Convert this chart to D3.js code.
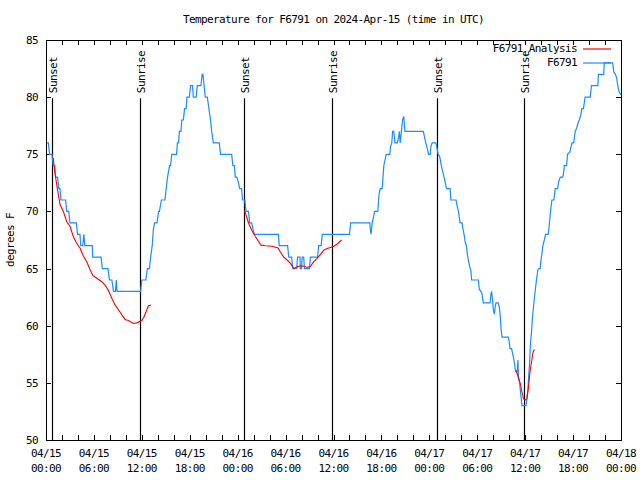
<!DOCTYPE html>
<html><head><meta charset="utf-8">
<script src="https://cdn.jsdelivr.net/npm/d3@7"></script>
<style>
body{margin:0;background:#fff}
text{font-family:"DejaVu Sans Mono","Liberation Mono",monospace;font-size:11px;letter-spacing:-0.6px;fill:#000}
</style>
</head><body>
<svg id="c" width="640" height="480"></svg>
<script>
// ---- data (hours after 2024-04-15 00:00 UTC, degrees F) ----
const startUTC = Date.UTC(2024, 3, 15, 0, 0);
const endUTC = Date.UTC(2024, 3, 18, 0, 0);
const titleText = "Temperature for F6791 on 2024-Apr-15 (time in UTC)";
const yLabel = "degrees F";
const yTicks = [50, 55, 60, 65, 70, 75, 80, 85];
const seriesNames = ["F6791_Analysis", "F6791"];
const sunLabels = ["Sunset", "Sunrise", "Sunset", "Sunrise", "Sunset", "Sunrise"];
const sunHours = [0.75, 11.83, 24.84, 35.75, 48.92, 59.83];

const observed = [
 [0.1,76],[0.3,76],[0.45,75],[0.75,75],[0.9,74],[1.1,74],[1.2,73],[1.45,73],[1.6,72],[1.75,72],[1.88,71],[2.45,71],
 [2.6,70],[2.85,70],[3.0,69],[3.8,69],[3.95,68],[4.25,68],[4.35,67],[4.6,67],[4.75,68],[4.85,67],[5.8,67],[5.85,66],
 [6.9,66],[7.05,65],[7.75,65],[7.95,64],[8.25,64],[8.45,63],[8.7,63],[8.8,64],[8.9,63],[11.85,63],[12.0,64],[12.5,64],
 [12.7,65],[12.95,65],[13.1,66],[13.3,67],[13.45,68.5],[13.6,69],[13.9,69],[14.1,70],[14.2,70],[14.45,71],[14.9,71],
 [15.05,72],[15.22,73],[15.47,74],[15.6,74],[15.75,75],[16.35,75],[16.45,76],[16.6,76],[16.7,77],[16.9,77],[17.0,78],
 [17.2,78],[17.35,79],[17.55,79],[17.65,80],[17.95,80],[18.1,81],[18.35,81],[18.45,80],[18.8,80],[18.95,81],[19.2,81],
 [19.4,81],[19.55,82],[19.65,82],[19.8,81],[19.95,80],[20.2,80],[20.4,79],[20.6,78],[20.75,77],[20.95,76],[21.7,76],
 [21.85,75],[23.25,75],[23.4,74],[23.6,74],[23.7,73],[23.9,73],[24.1,72.5],[24.25,72],[24.5,72],[24.6,71],[24.9,71],
 [25.05,70],[25.35,70],[25.5,69],[25.75,69],[25.9,68.5],[26.1,68],[29.1,68],[29.2,67],[30.25,67],[30.4,66],[30.75,66],
 [30.9,65],[31.4,65],[31.5,66],[31.8,66],[31.86,65],[32.0,65],[32.07,66],[32.27,66],[32.36,65],[33.0,65],[33.1,66],
 [34.0,66],[34.15,67],[34.45,67],[34.6,68],[38.0,68],[38.15,69],[40.55,69],[40.6,68.5],[40.7,68],[40.85,69],[41.0,69.5],
 [41.15,70],[41.55,70],[41.7,71.5],[41.85,72],[42.1,72],[42.2,73],[42.3,74],[42.45,74.5],[42.6,75],[43.05,75],[43.15,75.7],
 [43.3,76],[43.4,77],[43.55,77],[43.7,76],[44.0,76],[44.15,76.5],[44.25,77],[44.35,76],[44.5,77],[44.65,78],[44.8,78.3],
 [44.95,77],[47.25,77],[47.4,76.5],[47.55,76],[47.75,75.5],[47.9,75],[48.1,75],[48.2,75.7],[48.35,76],[48.8,76],
 [48.95,75.6],[49.1,75],[49.3,74.8],[49.5,74],[49.67,73.5],[49.84,73],[50.0,72.5],[50.15,72],[50.6,72],[50.7,71],
 [51.35,71],[51.47,70.5],[51.65,70],[51.85,69],[52.1,69],[52.2,68.5],[52.35,68],[52.5,67.3],[52.64,67],[52.75,66.3],
 [52.9,65.7],[53.05,65.2],[53.2,64.8],[53.3,64],[54.15,64],[54.25,63.2],[54.45,63],[54.6,62.8],[54.75,62],[55.6,62],
 [55.7,62.7],[55.8,63],[55.9,62.3],[56.0,61.5],[56.15,61],[56.25,61.7],[56.35,62],[56.6,62],[56.75,61.7],[56.86,61],
 [57.0,59.6],[57.1,59],[57.9,59],[58.0,58.6],[58.1,58],[58.3,58],[58.45,57.5],[58.6,57],[58.8,56],[59.0,56],[59.1,57],
 [59.15,55.5],[59.3,55],[59.45,54],[59.6,53],[60.1,53],[60.2,53.5],[60.35,54.5],[60.45,55.7],[60.55,56.7],[60.67,58.5],
 [60.8,59.5],[60.9,60.6],[61.05,61.7],[61.15,62.4],[61.3,63.3],[61.43,64.1],[61.6,64.9],[61.72,65],[61.88,65],
 [61.97,65.7],[62.1,66.3],[62.22,67],[62.4,67.5],[62.56,68],[62.88,68],[63.0,68.7],[63.1,69.4],[63.2,70.2],[63.35,71],
 [63.6,71],[63.76,72],[64.06,72],[64.2,72.6],[64.4,73],[64.7,73],[64.8,73.3],[64.9,74],[65.2,74],[65.3,75],[65.6,75.2],
 [65.86,76],[66.07,76],[66.27,77],[66.45,77.3],[66.6,77.7],[66.77,78],[66.95,78.4],[67.1,79],[67.3,79],[67.5,80],
 [68.15,80],[68.3,81],[69.1,81],[69.17,82],[69.84,82],[69.9,83],[70.96,83],[71.1,82.2],[71.3,82],[71.45,81.7],
 [71.6,81],[71.75,80.5],[72.0,80.2]
];

const analysisNight1 = [
 [0.9,74.7],[1.13,73.3],[1.42,72.0],[1.76,70.6],[2.17,70.0],[2.6,69.1],[3.01,68.7],[3.42,67.8],[3.85,67.2],[4.26,66.8],
 [4.68,66.1],[5.1,65.6],[5.52,64.9],[5.86,64.4],[6.36,64.15],[6.99,63.85],[7.4,63.55],[7.81,63.1],[8.24,62.4],[8.66,61.8],
 [9.07,61.4],[9.5,60.95],[9.91,60.55],[10.32,60.45],[10.95,60.2],[11.38,60.25],[12.0,60.45],[12.29,60.8],[12.54,61.25],
 [12.83,61.75],[13.13,61.8]
];
const analysisNight2 = [
 [24.85,70.1],[24.96,69.9],[25.17,69.4],[25.38,68.95],[25.67,68.5],[25.92,68.15],[26.22,67.8],[26.63,67.35],[26.93,67.05],
 [27.47,67.0],[28.31,66.95],[29.06,66.8],[29.35,66.45],[29.77,66.0],[30.19,65.75],[30.61,65.45],[31.02,65.0],[31.45,65.15],
 [31.86,65.25],[32.28,65.2],[32.7,65.1],[33.12,65.2],[33.53,65.6],[33.95,65.9],[34.37,66.25],[34.78,66.6],[35.2,66.75],
 [35.62,66.85],[36.04,66.95],[36.46,67.15],[37.0,67.5]
];
const analysisNight3 = [
 [58.83,56.1],[59.0,55.8],[59.38,54.95],[59.6,54.2],[59.8,53.6],[60.0,53.5],[60.2,53.6],[60.38,54.4],[60.5,55.25],
 [60.63,56.1],[60.8,56.85],[60.96,57.6],[61.05,57.8],[61.17,57.9]
];

// ---- layout ----
const L = 46, R = 621, T = 40, B = 440;
const blue = "#1a8cff", red = "#ff0000";
const svg = d3.select("#c");
const toDate = h => new Date(startUTC + h * 3600e3);

const x = d3.scaleUtc().domain([new Date(startUTC), new Date(endUTC)]).range([L, R]);
const y = d3.scaleLinear().domain([50, 85]).range([B, T]);

// axes with inward ticks
const minorTicks = d3.utcHour.every(2).range(new Date(startUTC), new Date(endUTC + 1));
const majorTicks = d3.utcHour.every(6).range(new Date(startUTC), new Date(endUTC + 1));
const fmtDay = d3.utcFormat("%m/%d"), fmtTime = d3.utcFormat("%H:%M");

const gx = svg.append("g").attr("transform", `translate(0,${B})`)
  .call(d3.axisBottom(x).tickValues(minorTicks).tickSizeInner(-5).tickSizeOuter(0).tickFormat(""));
const gxt = svg.append("g").attr("transform", `translate(0,${T})`)
  .call(d3.axisTop(x).tickValues(minorTicks).tickSizeInner(-5).tickSizeOuter(0).tickFormat(""));
const gy = svg.append("g").attr("transform", `translate(${L},0)`)
  .call(d3.axisLeft(y).tickValues(yTicks).tickSizeInner(-5).tickSizeOuter(0).tickPadding(8).tickFormat(d3.format("d")));
const gyr = svg.append("g").attr("transform", `translate(${R},0)`)
  .call(d3.axisRight(y).tickValues(yTicks).tickSizeInner(-5).tickSizeOuter(0).tickFormat(""));
[gx, gxt, gy, gyr].forEach(g => {
  g.select(".domain").remove();
  g.selectAll(".tick line").attr("stroke", "#000").attr("shape-rendering", "crispEdges");
});
gy.selectAll(".tick text").attr("font-family", null).attr("font-size", null).attr("fill", "#000");

// x tick labels (two lines)
const xl = svg.append("g");
majorTicks.forEach(d => {
  const t = xl.append("text").attr("x", x(d)).attr("text-anchor", "middle");
  t.append("tspan").attr("x", x(d)).attr("y", 457).text(fmtDay(d));
  t.append("tspan").attr("x", x(d)).attr("y", 472).text(fmtTime(d));
});

// border
svg.append("rect").attr("x", L).attr("y", T).attr("width", R - L).attr("height", B - T)
  .attr("fill", "none").attr("stroke", "#000").attr("shape-rendering", "crispEdges");

// sunrise/sunset markers
sunHours.forEach((h, i) => {
  const xx = Math.round(x(toDate(h))) + 0.5;
  svg.append("line").attr("x1", xx).attr("x2", xx).attr("y1", y(80) + 1).attr("y2", B)
    .attr("stroke", "#000").attr("stroke-width", 1.2);
  svg.append("text").attr("transform", `translate(${xx + 1},${y(80) - 4}) rotate(-90)`)
    .attr("dominant-baseline", "middle").text(sunLabels[i]);
});

// lines
const line = d3.line().x(d => x(toDate(d[0]))).y(d => y(d[1]));
svg.append("path").datum(observed).attr("d", line).attr("fill", "none")
  .attr("stroke", blue).attr("stroke-width", 1.2).attr("stroke-linejoin", "miter");
[analysisNight1, analysisNight2, analysisNight3].forEach(s => {
  svg.append("path").datum(s).attr("d", line).attr("fill", "none")
    .attr("stroke", red).attr("stroke-width", 1.1);
});

// title
svg.append("text").attr("x", (L + R) / 2).attr("y", 23).attr("text-anchor", "middle").text(titleText);
// y label
svg.append("text").attr("transform", `translate(11,${(T + B) / 2}) rotate(-90)`)
  .attr("text-anchor", "middle").attr("dominant-baseline", "middle").text(yLabel);

// legend
const legColors = [red, blue];
seriesNames.forEach((n, i) => {
  const yy = 49 + i * 14;
  svg.append("text").attr("x", 577).attr("y", yy).attr("text-anchor", "end")
    .attr("dominant-baseline", "middle").text(n);
  svg.append("line").attr("x1", 583).attr("x2", 611).attr("y1", yy).attr("y2", yy)
    .attr("stroke", legColors[i]).attr("stroke-width", 1.2);
});
</script>
</body></html>
